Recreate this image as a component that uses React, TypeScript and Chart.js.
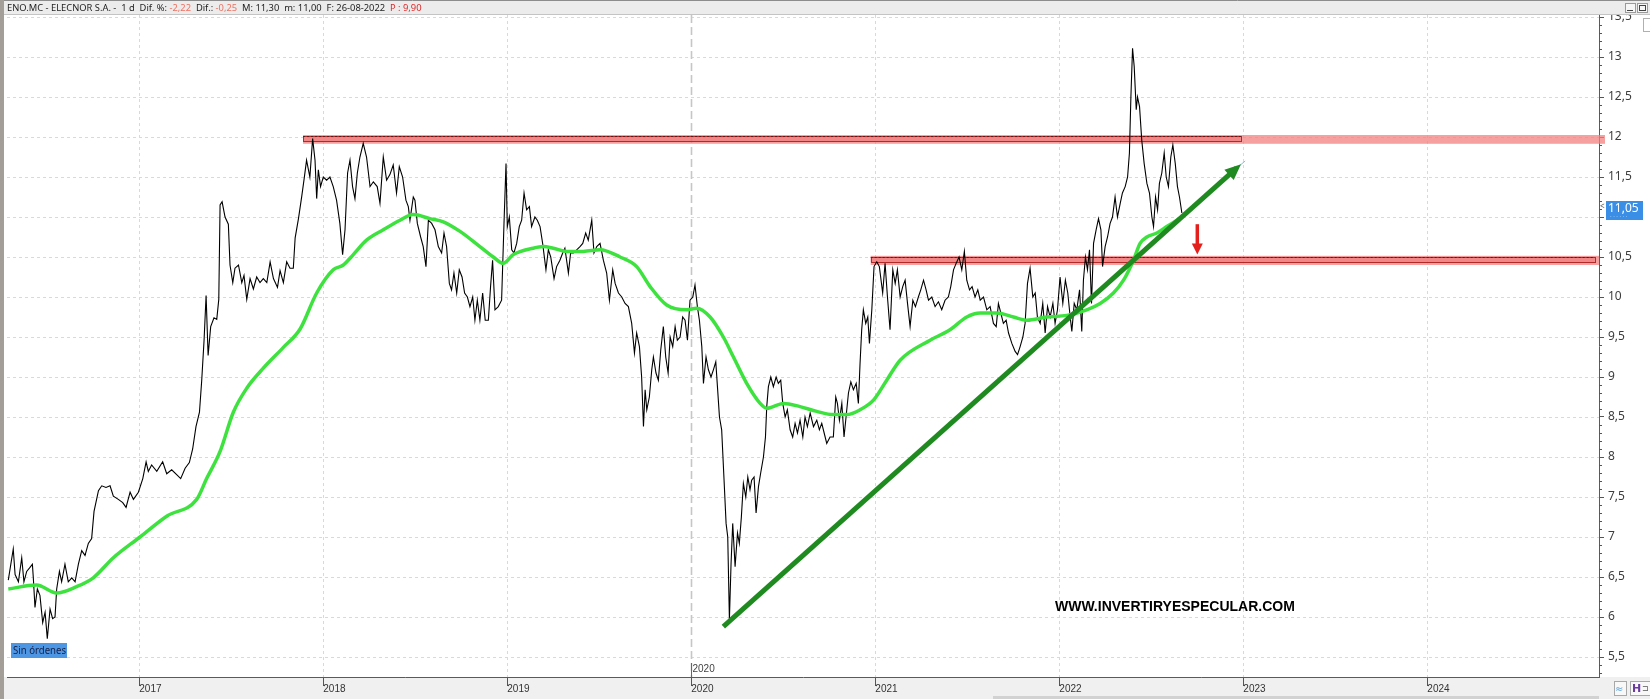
import { useEffect, useRef } from 'react';
import { Chart, registerables } from 'chart.js';

Chart.register(...registerables);

// ---- axis ranges / ticks ----
const X_MIN = 2016.281;
const X_MAX = 2024.933;
const Y_MIN = 5.25;
const Y_MAX = 13.525;
const yearTicks = [2017, 2018, 2019, 2020, 2021, 2022, 2023, 2024];
const priceTicks = [5.5, 6, 6.5, 7, 7.5, 8, 8.5, 9, 9.5, 10, 10.5, 11, 11.5, 12, 12.5, 13, 13.5];
const sessionYear = 2020;

// ---- price series (decimal year, close) ----
const priceYears = [
  2016.288, 2016.315, 2016.325, 2016.343, 2016.361, 2016.373, 2016.388, 2016.406, 2016.419, 2016.424,
  2016.433, 2016.446, 2016.460, 2016.475, 2016.488, 2016.500, 2016.515, 2016.529, 2016.542, 2016.551,
  2016.566, 2016.578, 2016.596, 2016.614, 2016.633, 2016.651, 2016.669, 2016.687, 2016.705, 2016.723,
  2016.741, 2016.754, 2016.778, 2016.796, 2016.819, 2016.841, 2016.859, 2016.886, 2016.910, 2016.928,
  2016.950, 2016.968, 2016.995, 2017.019, 2017.037, 2017.049, 2017.067, 2017.095, 2017.127, 2017.149,
  2017.176, 2017.203, 2017.225, 2017.249, 2017.272, 2017.290, 2017.308, 2017.327, 2017.339, 2017.352,
  2017.363, 2017.374, 2017.388, 2017.406, 2017.421, 2017.432, 2017.439, 2017.450, 2017.466, 2017.484,
  2017.493, 2017.508, 2017.520, 2017.539, 2017.557, 2017.569, 2017.584, 2017.602, 2017.620, 2017.638,
  2017.656, 2017.674, 2017.693, 2017.711, 2017.729, 2017.751, 2017.765, 2017.783, 2017.801, 2017.819,
  2017.837, 2017.847, 2017.865, 2017.883, 2017.896,
  2017.909, 2017.927, 2017.942, 2017.955, 2017.964, 2017.973, 2017.985, 2018.000, 2018.018, 2018.036,
  2018.054, 2018.072, 2018.090, 2018.105, 2018.118, 2018.132, 2018.145, 2018.159, 2018.172, 2018.185,
  2018.199, 2018.217, 2018.235, 2018.254, 2018.272, 2018.293, 2018.308, 2018.326, 2018.344, 2018.362,
  2018.380, 2018.398, 2018.413, 2018.431, 2018.449, 2018.462, 2018.471, 2018.489, 2018.498, 2018.511,
  2018.529, 2018.543, 2018.558, 2018.571, 2018.589, 2018.607, 2018.625, 2018.643, 2018.656, 2018.670,
  2018.685, 2018.697, 2018.710, 2018.725, 2018.739, 2018.754, 2018.768, 2018.783, 2018.797, 2018.812,
  2018.824, 2018.837, 2018.851, 2018.866, 2018.880, 2018.897, 2018.909, 2018.920, 2018.933, 2018.951,
  2018.969, 2018.982, 2018.993, 2019.000, 2019.011, 2019.024, 2019.036, 2019.051, 2019.065, 2019.078,
  2019.091, 2019.105, 2019.120, 2019.132, 2019.150, 2019.163, 2019.178, 2019.192, 2019.210, 2019.223,
  2019.236, 2019.254, 2019.268, 2019.286, 2019.301, 2019.313, 2019.332, 2019.344, 2019.359, 2019.377,
  2019.395, 2019.410, 2019.426, 2019.440, 2019.459, 2019.471, 2019.486, 2019.504,
  2019.522, 2019.540, 2019.555, 2019.573, 2019.586, 2019.604, 2019.622, 2019.640, 2019.658, 2019.676,
  2019.691, 2019.703, 2019.718, 2019.730, 2019.740, 2019.749, 2019.758, 2019.772, 2019.785, 2019.794,
  2019.808, 2019.821, 2019.834, 2019.848, 2019.861, 2019.874, 2019.885, 2019.899, 2019.912, 2019.924,
  2019.939, 2019.953, 2019.966, 2019.979, 2019.993, 2020.008, 2020.020, 2020.033, 2020.044, 2020.057,
  2020.066, 2020.080, 2020.093, 2020.107, 2020.120, 2020.133, 2020.142, 2020.153, 2020.165, 2020.178,
  2020.189, 2020.198, 2020.207, 2020.216, 2020.225, 2020.238, 2020.251, 2020.261, 2020.272, 2020.283,
  2020.296, 2020.307, 2020.319, 2020.328, 2020.341, 2020.352, 2020.365, 2020.377, 2020.392, 2020.403,
  2020.410, 2020.419, 2020.432, 2020.446, 2020.461, 2020.473, 2020.486, 2020.497, 2020.510, 2020.522,
  2020.537, 2020.551, 2020.564, 2020.577, 2020.591, 2020.606, 2020.618, 2020.631, 2020.646, 2020.664,
  2020.682, 2020.696, 2020.709, 2020.722, 2020.736, 2020.754, 2020.772, 2020.785, 2020.794, 2020.805,
  2020.818, 2020.830, 2020.841, 2020.854, 2020.867, 2020.881, 2020.896, 2020.908, 2020.917, 2020.926,
  2020.935, 2020.948, 2020.959, 2020.968, 2020.981, 2020.993, 2021.008, 2021.022,
  2021.040, 2021.053, 2021.066, 2021.080, 2021.095, 2021.108, 2021.120, 2021.135, 2021.149, 2021.162,
  2021.175, 2021.189, 2021.204, 2021.218, 2021.234, 2021.247, 2021.262, 2021.276, 2021.289, 2021.307,
  2021.325, 2021.343, 2021.361, 2021.379, 2021.397, 2021.410, 2021.425, 2021.439, 2021.455, 2021.470,
  2021.484, 2021.497, 2021.512, 2021.526, 2021.542, 2021.557, 2021.570, 2021.588, 2021.606, 2021.624,
  2021.642, 2021.657, 2021.669, 2021.682, 2021.696, 2021.711, 2021.724, 2021.742, 2021.760, 2021.773,
  2021.787, 2021.802, 2021.814, 2021.827, 2021.841, 2021.856, 2021.869, 2021.881, 2021.896, 2021.910,
  2021.923, 2021.936, 2021.950, 2021.965, 2021.977, 2021.990, 2022.004, 2022.019, 2022.033, 2022.046,
  2022.059, 2022.068, 2022.081, 2022.095, 2022.110, 2022.122, 2022.131, 2022.142, 2022.153, 2022.164,
  2022.175, 2022.186, 2022.200, 2022.213, 2022.226, 2022.235, 2022.249, 2022.262, 2022.276, 2022.289,
  2022.303, 2022.316, 2022.331, 2022.343, 2022.358, 2022.371, 2022.381, 2022.389, 2022.398, 2022.407,
  2022.418, 2022.425, 2022.436, 2022.448, 2022.461, 2022.476, 2022.490, 2022.503, 2022.512, 2022.523,
  2022.534, 2022.544, 2022.557, 2022.570, 2022.581, 2022.593, 2022.606, 2022.617, 2022.630, 2022.642,
  2022.653, 2022.666,
];

const priceValues = [
  6.46, 6.85, 6.53, 6.44, 6.74, 6.44, 6.57, 6.62, 6.66, 6.49,
  6.12, 6.35, 6.27, 5.93, 6.06, 5.73, 6.10, 5.98, 6.00, 6.35,
  6.57, 6.44, 6.66, 6.44, 6.49, 6.44, 6.66, 6.83, 6.77, 6.92,
  6.98, 7.32, 7.58, 7.64, 7.62, 7.64, 7.51, 7.47, 7.43, 7.37,
  7.56, 7.47, 7.56, 7.73, 7.94, 7.82, 7.90, 7.82, 7.94, 7.79,
  7.84, 7.78, 7.73, 7.86, 7.93, 8.10, 8.38, 8.56, 8.95, 9.46,
  10.02, 9.27, 9.63, 9.74, 9.72, 9.97, 11.15, 11.19, 11.00, 10.91,
  10.40, 10.18, 10.36, 10.40, 10.18, 10.27, 9.97, 10.23, 10.10, 10.25,
  10.18, 10.23, 10.18, 10.44, 10.23, 10.12, 10.33, 10.18, 10.44, 10.36,
  10.36, 10.74, 10.98, 11.26, 11.48,
  11.71, 11.50, 11.98, 11.71, 11.23, 11.59, 11.38, 11.50, 11.46, 11.50,
  11.38, 11.21, 10.92, 10.53, 10.84, 11.55, 11.71, 11.38, 11.23, 11.55,
  11.75, 11.92, 11.75, 11.38, 11.44, 11.38, 11.17, 11.75, 11.46, 11.53,
  11.65, 11.30, 11.63, 11.50, 11.21, 11.13, 10.96, 11.25, 11.21, 10.92,
  10.75, 10.63, 10.38, 10.96, 10.92, 10.84, 10.63, 10.55, 10.80, 10.63,
  10.17, 10.09, 10.30, 10.05, 10.34, 10.25, 10.05, 10.00, 9.88, 10.00,
  9.71, 9.96, 9.71, 10.05, 9.71, 9.71, 10.13, 10.46, 9.84, 9.88,
  9.96, 10.92, 11.67, 10.88, 11.00, 10.59, 10.55, 10.67, 10.88, 10.96,
  11.30, 11.09, 11.13, 10.88, 11.00, 10.96, 10.88, 10.67, 10.34, 10.59,
  10.50, 10.23, 10.38, 10.46, 10.55, 10.61, 10.30, 10.55, 10.55, 10.59,
  10.63, 10.67, 10.80, 10.71, 10.96, 10.55, 10.63, 10.67,
  10.46, 10.30, 9.96, 10.34, 10.17, 10.05, 10.00, 9.92, 9.88, 9.67,
  9.30, 9.55, 9.38, 9.00, 8.38, 8.84, 8.59, 8.75, 9.09, 9.25,
  9.05, 8.96, 9.34, 9.63, 9.25, 9.05, 9.50, 9.38, 9.63, 9.46,
  9.50, 9.75, 9.71, 9.46, 9.96, 10.00, 10.15, 9.88, 9.71, 9.38,
  8.92, 9.25, 9.09, 9.00, 9.09, 9.19, 8.88, 8.50, 8.34, 7.71,
  7.17, 7.00, 5.97, 6.67, 7.17, 6.63, 7.05, 6.92, 7.25, 7.67,
  7.50, 7.75, 7.59, 7.71, 7.75, 7.30, 7.63, 7.80, 8.00, 8.25,
  8.63, 8.88, 9.00, 8.88, 9.00, 8.92, 8.96, 8.67, 8.50, 8.59,
  8.34, 8.25, 8.42, 8.30, 8.46, 8.25, 8.50, 8.38, 8.55, 8.38,
  8.46, 8.34, 8.42, 8.30, 8.17, 8.25, 8.25, 8.75, 8.67, 8.46,
  8.67, 8.25, 8.50, 8.80, 8.94, 8.84, 8.92, 8.67, 9.17, 9.59,
  9.84, 9.67, 9.75, 9.42, 9.84, 10.38, 10.44, 10.38,
  10.05, 10.42, 10.00, 9.59, 10.34, 10.17, 10.34, 10.00, 10.13, 10.21,
  9.92, 9.63, 9.96, 9.88, 10.00, 10.09, 10.21, 10.09, 9.96, 10.00,
  9.88, 9.94, 9.84, 9.96, 10.00, 10.13, 10.34, 10.42, 10.50, 10.34,
  10.57, 10.21, 10.09, 10.13, 10.00, 10.09, 9.96, 10.00, 9.84, 9.88,
  9.67, 9.63, 9.92, 9.80, 9.67, 9.71, 9.55, 9.42, 9.32, 9.28,
  9.38, 9.50, 9.67, 10.17, 10.36, 10.00, 10.05, 9.75, 9.67, 9.92,
  9.55, 9.88, 9.75, 9.92, 9.67, 9.84, 10.25, 9.92, 10.21, 10.05,
  9.75, 9.57, 9.92, 9.84, 10.09, 9.57, 10.21, 10.50, 10.34, 10.59,
  9.92, 10.67, 10.84, 10.98, 10.84, 10.38, 10.63, 10.75, 10.92, 11.00,
  11.25, 11.00, 11.17, 11.30, 11.38, 11.50, 11.80, 12.50, 13.11, 12.88,
  12.34, 12.50, 12.38, 11.96, 11.67, 11.42, 11.30, 11.00, 10.88, 11.25,
  11.09, 11.42, 11.55, 11.80, 11.50, 11.38, 11.75, 11.90, 11.67, 11.38,
  11.25, 11.05,
];

// ---- moving average (green) ----
const maYears = [
  2016.288, 2016.442, 2016.551, 2016.660, 2016.750, 2016.859,
  2017.004, 2017.149, 2017.312, 2017.366, 2017.439, 2017.511, 2017.584, 2017.674, 2017.783, 2017.874, 2017.964,
  2018.054, 2018.109, 2018.163, 2018.235, 2018.326, 2018.417, 2018.489, 2018.580, 2018.652, 2018.743, 2018.851, 2018.924, 2018.978,
  2019.033, 2019.141, 2019.196, 2019.250, 2019.323, 2019.413, 2019.504, 2019.613, 2019.703, 2019.776, 2019.866, 2019.975,
  2020.029, 2020.102, 2020.174, 2020.229, 2020.301, 2020.374, 2020.410, 2020.501, 2020.591, 2020.682, 2020.772, 2020.845, 2020.917, 2020.990,
  2021.062, 2021.135, 2021.298, 2021.406, 2021.497, 2021.570, 2021.660, 2021.751, 2021.823, 2021.932,
  2022.041, 2022.149, 2022.222, 2022.294, 2022.349, 2022.403, 2022.439, 2022.476, 2022.530, 2022.584, 2022.639, 2022.666,
];
const maValues = [
  6.35, 6.40, 6.30, 6.38, 6.49, 6.74,
  7.00, 7.26, 7.47, 7.73, 8.07, 8.56, 8.86, 9.11, 9.37, 9.60, 10.05,
  10.34, 10.40, 10.53, 10.71, 10.84, 10.96, 11.03, 10.98, 10.94, 10.82, 10.63, 10.50, 10.42,
  10.53, 10.61, 10.63, 10.61, 10.57, 10.57, 10.59, 10.50, 10.38, 10.13, 9.90, 9.84,
  9.86, 9.75, 9.50, 9.25, 8.92, 8.67, 8.61, 8.67, 8.63, 8.57, 8.53, 8.53, 8.59, 8.71,
  8.96, 9.21, 9.46, 9.59, 9.75, 9.80, 9.80, 9.75, 9.71, 9.75,
  9.77, 9.84, 9.92, 10.05, 10.21, 10.46, 10.67, 10.75, 10.80, 10.88, 10.96, 11.00,
];

// ---- drawn annotations ----
const trendYears = [2020.174, 2022.963];
const trendValues = [5.88, 11.61];
const trendExtYears = [2022.963, 2023.01];
const trendExtValues = [11.61, 11.70];

const bandStart = [2017.89, 2020.975];
const bandOutlineEnd = [2022.986, 2024.91];
const bandTop = [12.025, 10.515];
const bandBottom = [11.915, 10.40];

const signalArrowYear = 2022.75;
const signalArrowFrom = 10.91;
const signalArrowTo = 10.53;

const lastPrice = 11.05;
const lastPriceText = '11,05';
const watermarkText = 'WWW.INVERTIRYESPECULAR.COM';
const ordersText = 'Sin órdenes';

const headerParts: [string, string][] = [
  ['ENO.MC - ELECNOR S.A. -  1 d  Dif. %: ', '#1e1e1e'],
  ['-2,22', '#f07060'],
  ['  Dif.: ', '#1e1e1e'],
  ['-0,25', '#f07060'],
  ['  M: 11,30  m: 11,00  F: 26-08-2022  ', '#1e1e1e'],
  ['P : 9,90', '#e02a2a'],
];

const toPoints = (xs: number[], ys: number[]) => xs.map((x, i) => ({ x, y: ys[i] }));

const decorPlugin = {
  id: 'decor',
  beforeDraw(chart: any) {
    const { ctx, width, height, chartArea: a } = chart;
    ctx.save();
    ctx.fillStyle = '#ffffff';
    ctx.fillRect(0, 0, width, height);
    ctx.fillStyle = '#f0f0f0';
    ctx.fillRect(0, a.bottom, width, height - a.bottom);
    ctx.fillStyle = '#d2d2d2';
    ctx.fillRect(993, height - 3, a.right - 993, 3);
    ctx.restore();
  },
  beforeDatasetsDraw(chart: any) {
    const { ctx, chartArea: a, scales } = chart;
    const xs = scales.x;
    const ys = scales.y;
    ctx.save();
    const line = (x1: number, y1: number, x2: number, y2: number) => {
      ctx.beginPath();
      ctx.moveTo(x1, y1);
      ctx.lineTo(x2, y2);
      ctx.stroke();
    };
    // grid
    ctx.strokeStyle = '#d9d9d9';
    ctx.lineWidth = 1;
    ctx.setLineDash([3, 3]);
    priceTicks.forEach((v) => {
      const py = Math.round(ys.getPixelForValue(v)) + 0.5;
      line(a.left, py, a.right, py);
    });
    yearTicks.forEach((yr) => {
      if (yr === sessionYear) return;
      const px = Math.round(xs.getPixelForValue(yr)) + 0.5;
      line(px, a.top, px, a.bottom);
    });
    // session separator
    ctx.strokeStyle = '#c6c6c6';
    ctx.lineWidth = 1.6;
    ctx.setLineDash([8, 4]);
    const sx = Math.round(xs.getPixelForValue(sessionYear)) + 0.5;
    line(sx, a.top, sx, a.bottom);
    ctx.setLineDash([]);

    // resistance / support bands
    bandStart.forEach((s, i) => {
      const x0 = xs.getPixelForValue(s);
      const x1 = xs.getPixelForValue(bandOutlineEnd[i]);
      const yt = ys.getPixelForValue(bandTop[i]);
      const yb = ys.getPixelForValue(bandBottom[i]);
      const xr = a.right + (i === 0 ? 6 : 0);
      ctx.fillStyle = 'rgba(243,128,128,0.75)';
      ctx.fillRect(x0, yt, xr - x0, yb - yt);
      const ym = yt + (yb - yt) * 0.68;
      ctx.fillStyle = 'rgba(232,90,90,0.35)';
      ctx.fillRect(x0, yt + 1, x1 - x0, ym - yt - 1);
      ctx.strokeStyle = '#b02a2a';
      ctx.lineWidth = 1;
      ctx.strokeRect(Math.round(x0) + 0.5, Math.round(yt) + 1.5, Math.round(x1 - x0), Math.round(ym - yt) - 1);
      ctx.setLineDash([2, 2]);
      ctx.strokeStyle = '#5a1a1a';
      line(x0, Math.round(yt) + 1.5, x1, Math.round(yt) + 1.5);
      ctx.setLineDash([]);
    });
    ctx.restore();
  },
  afterDatasetsDraw(chart: any) {
    const { ctx, scales } = chart;
    const xs = scales.x;
    const ys = scales.y;
    ctx.save();
    // trend arrow head
    const ax = xs.getPixelForValue(trendYears[0]);
    const ay = ys.getPixelForValue(trendValues[0]);
    const bx = xs.getPixelForValue(trendYears[1]);
    const by = ys.getPixelForValue(trendValues[1]);
    const ang = Math.atan2(by - ay, bx - ax);
    const tipX = bx + Math.cos(ang) * 6;
    const tipY = by + Math.sin(ang) * 6;
    const baseX = bx - Math.cos(ang) * 10;
    const baseY = by - Math.sin(ang) * 10;
    const nx = -Math.sin(ang);
    const ny = Math.cos(ang);
    ctx.fillStyle = '#1f8a1f';
    ctx.beginPath();
    ctx.moveTo(tipX, tipY);
    ctx.lineTo(baseX + nx * 7, baseY + ny * 7);
    ctx.lineTo(baseX - nx * 7, baseY - ny * 7);
    ctx.closePath();
    ctx.fill();

    // red down arrow
    const rx = xs.getPixelForValue(signalArrowYear);
    const r0 = ys.getPixelForValue(signalArrowFrom);
    const r1 = ys.getPixelForValue(signalArrowTo);
    ctx.strokeStyle = '#e3201c';
    ctx.fillStyle = '#e3201c';
    ctx.lineWidth = 3.5;
    ctx.beginPath();
    ctx.moveTo(rx, r0);
    ctx.lineTo(rx, r1 - 9);
    ctx.stroke();
    ctx.beginPath();
    ctx.moveTo(rx - 5.5, r1 - 11);
    ctx.lineTo(rx + 5.5, r1 - 11);
    ctx.lineTo(rx, r1);
    ctx.closePath();
    ctx.fill();

    // watermark
    ctx.fillStyle = '#000000';
    ctx.font = 'bold 14px "Liberation Sans", Arial, sans-serif';
    ctx.textBaseline = 'middle';
    ctx.textAlign = 'left';
    ctx.fillText(watermarkText, 1055, 607, 241);

    // "Sin órdenes" box
    ctx.fillStyle = '#4d96e3';
    ctx.fillRect(11, 643, 56, 15);
    ctx.fillStyle = '#14204a';
    ctx.font = '10px "Noto Sans", sans-serif';
    ctx.fillText(ordersText, 13, 651, 53);
    ctx.restore();
  },
  afterDraw(chart: any) {
    const { ctx, width, height, chartArea: a, scales } = chart;
    const xs = scales.x;
    const ys = scales.y;
    ctx.save();
    // minor y ticks
    ctx.strokeStyle = '#555555';
    ctx.lineWidth = 1;
    for (let k = 53; k <= 135; k++) {
      if (k % 5 === 0) continue;
      const py = Math.round(ys.getPixelForValue(k / 10)) + 0.5;
      if (py < a.top || py > a.bottom) continue;
      ctx.beginPath();
      ctx.moveTo(a.right, py);
      ctx.lineTo(a.right + 3, py);
      ctx.stroke();
    }
    // session label above axis
    const sx = Math.round(xs.getPixelForValue(sessionYear)) + 0.5;
    ctx.strokeStyle = '#666666';
    ctx.beginPath();
    ctx.moveTo(sx, a.bottom - 14);
    ctx.lineTo(sx, a.bottom);
    ctx.stroke();
    ctx.fillStyle = '#444444';
    ctx.font = '10px "Liberation Sans", Arial, sans-serif';
    ctx.textBaseline = 'middle';
    ctx.textAlign = 'left';
    ctx.fillText(String(sessionYear), sx + 1, a.bottom - 8);

    // last price label
    const py = ys.getPixelForValue(lastPrice);
    ctx.fillStyle = '#3a8ee6';
    ctx.fillRect(a.right + 7, py - 12, 37, 19);
    ctx.fillStyle = '#ffffff';
    ctx.font = '12px "Noto Sans", sans-serif';
    ctx.fillText(lastPriceText, a.right + 9, py - 4);
    ctx.fillStyle = '#cfe3fa';
    ctx.font = '6px "Noto Sans", sans-serif';
    ctx.fillText('· · · · · ·', a.right + 11, py + 3);
    ctx.fillStyle = '#555555';
    ctx.font = '8px "Noto Sans", sans-serif';
    ctx.fillText('<', a.right + 1, py - 6);

    // header bar
    ctx.fillStyle = '#ececec';
    ctx.fillRect(0, 0, width, a.top);
    ctx.strokeStyle = '#8c8c8c';
    ctx.beginPath();
    ctx.moveTo(0, 0.5);
    ctx.lineTo(width, 0.5);
    ctx.stroke();
    ctx.strokeStyle = '#c4c4c4';
    ctx.beginPath();
    ctx.moveTo(0, a.top - 0.5);
    ctx.lineTo(width, a.top - 0.5);
    ctx.stroke();
    ctx.font = '10px "Noto Sans", sans-serif';
    let total = 0;
    headerParts.forEach(([t]) => { total += ctx.measureText(t).width; });
    const fs = 10 * 415 / total;
    ctx.font = `${fs.toFixed(2)}px "Noto Sans", sans-serif`;
    let hx = 7;
    headerParts.forEach(([t, c]) => {
      ctx.fillStyle = c;
      ctx.fillText(t, hx, 8);
      hx += ctx.measureText(t).width;
    });
    // window buttons
    ctx.fillStyle = '#f6f6f6';
    ctx.strokeStyle = '#9a9a9a';
    ctx.fillRect(1625, 3, 10, 9);
    ctx.strokeRect(1625.5, 3.5, 10, 9);
    ctx.fillRect(1637, 3, 10, 9);
    ctx.strokeRect(1637.5, 3.5, 10, 9);
    ctx.strokeStyle = '#444';
    ctx.beginPath();
    ctx.moveTo(1627, 10.5);
    ctx.lineTo(1633, 10.5);
    ctx.stroke();
    ctx.strokeRect(1639.5, 5.5, 6, 5);
    ctx.strokeStyle = '#b0b0b0';
    ctx.strokeRect(1643.5, 18.5, 8, 13);

    // bottom-right icons
    ctx.fillStyle = '#f8f8f8';
    ctx.strokeStyle = '#a8a8a8';
    ctx.fillRect(1614, 681, 12, 14);
    ctx.strokeRect(1614.5, 681.5, 12, 14);
    ctx.fillStyle = '#5aa0d8';
    ctx.font = '10px "DejaVu Sans", sans-serif';
    ctx.fillText('≈', 1615, 689);
    ctx.fillStyle = '#f8f8f8';
    ctx.fillRect(1630, 681, 20, 14);
    ctx.strokeRect(1630.5, 681.5, 20, 14);
    ctx.fillStyle = '#6a3aa0';
    ctx.font = 'bold 11px "DejaVu Sans", sans-serif';
    ctx.fillText('H', 1632, 689);
    ctx.fillStyle = '#555';
    ctx.font = '8px "DejaVu Sans", sans-serif';
    ctx.fillText('⊐', 1642, 689);

    // left frame
    ctx.fillStyle = '#a49e98';
    ctx.fillRect(0, 0, 4, height);
    ctx.restore();
  },
};

export default function App() {
  const ref = useRef<HTMLCanvasElement | null>(null);
  useEffect(() => {
    const canvas = ref.current;
    if (!canvas) return;
    const chart = new Chart(canvas, {
      type: 'line',
      data: {
        datasets: [
          {
            label: 'ENO.MC',
            data: toPoints(priceYears, priceValues),
            borderColor: '#000000',
            borderWidth: 1.1,
            pointRadius: 0,
            tension: 0,
            order: 3,
          },
          {
            label: 'Media',
            data: toPoints(maYears, maValues),
            borderColor: '#3ee23e',
            borderWidth: 3.5,
            pointRadius: 0,
            cubicInterpolationMode: 'monotone',
            order: 2,
          },
          {
            label: 'Tendencia',
            data: toPoints(trendYears, trendValues),
            borderColor: '#1f8a1f',
            borderWidth: 5,
            pointRadius: 0,
            tension: 0,
            order: 1,
          },
          {
            label: 'Extensión',
            data: toPoints(trendExtYears, trendExtValues),
            borderColor: '#86bde6',
            borderWidth: 1,
            pointRadius: 0,
            tension: 0,
            order: 0,
          },
        ],
      },
      options: {
        responsive: false,
        animation: false,
        events: [],
        layout: { padding: { left: 7, top: 15, right: 0, bottom: 0 } },
        plugins: { legend: { display: false }, tooltip: { enabled: false } },
        scales: {
          x: {
            type: 'linear',
            position: 'bottom',
            min: X_MIN,
            max: X_MAX,
            afterBuildTicks: (s: any) => { s.ticks = yearTicks.map((v) => ({ value: v })); },
            afterFit: (s: any) => { s.height = 22; },
            grid: { display: true, drawOnChartArea: false, drawTicks: true, tickLength: 9, color: '#555555' },
            border: { display: true, color: '#5a5a5a', width: 1 },
            ticks: {
              autoSkip: false,
              maxRotation: 0,
              align: 'start',
              padding: -3,
              color: '#333333',
              font: { family: '"Liberation Sans", Arial, sans-serif', size: 10 },
              callback: (v: any) => String(v),
            },
          },
          y: {
            type: 'linear',
            position: 'right',
            min: Y_MIN,
            max: Y_MAX,
            afterBuildTicks: (s: any) => { s.ticks = priceTicks.map((v) => ({ value: v })); },
            afterFit: (s: any) => { s.width = 51; },
            grid: { display: true, drawOnChartArea: false, drawTicks: true, tickLength: 5, color: '#555555' },
            border: { display: true, color: '#5a5a5a', width: 1 },
            ticks: {
              padding: 4,
              color: '#3c3c3c',
              font: { family: '"Noto Sans", sans-serif', size: 12 },
              callback: (v: any) => String(v).replace('.', ','),
            },
          },
        },
      },
      plugins: [decorPlugin],
    } as any);
    return () => chart.destroy();
  }, []);
  return (
    <div style={{ position: 'fixed', left: 0, top: 0, width: 1650, height: 699, background: '#ffffff' }}>
      <canvas ref={ref} width={1650} height={699} style={{ display: 'block', width: 1650, height: 699 }} />
    </div>
  );
}
